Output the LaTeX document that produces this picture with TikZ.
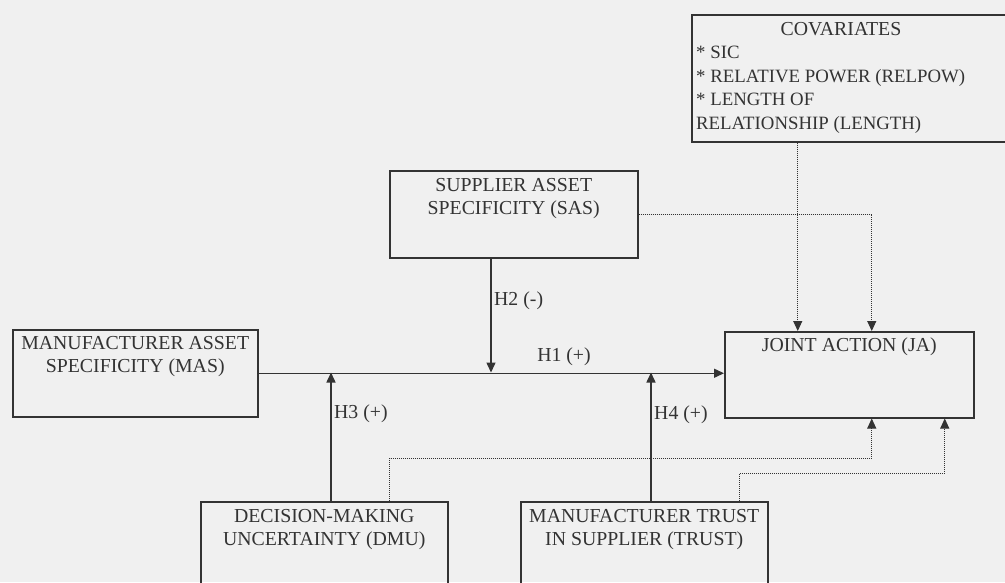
\documentclass[tikz,border=0pt]{standalone}
\usepackage{fontspec}
\setmainfont{Liberation Serif}
\usetikzlibrary{arrows.meta,positioning}

\definecolor{ink}{gray}{0.2}
\definecolor{paper}{gray}{0.94}

\tikzset{
  box/.style={draw=ink, line width=1.5pt, rectangle, inner sep=0pt, anchor=north west},
  txt/.style={inner sep=0pt, align=center, text=ink, font=\fontsize{19.8}{23.5}\selectfont},
  hyp/.style={inner sep=0pt, text=ink, font=\fontsize{19.8}{23.5}\selectfont},
  link/.style={draw=ink, line width=1.5pt, -{Triangle[length=10pt,width=9pt]}},
  dotlink/.style={draw=ink, line width=1pt, densely dotted, -{Triangle[length=10pt,width=9pt]}}
}

\begin{document}
\begin{tikzpicture}[x=1pt,y=-1pt]

  \useasboundingbox (0,0) rectangle (1005,582);
  \fill[paper] (0,0) rectangle (1005,582);
  \clip (0,0) rectangle (1005,582);

  % boxes
  \node[box, minimum width=245pt, minimum height=87pt] (mas) at (12,329) {};
  \node[box, minimum width=248pt, minimum height=87pt] (sas) at (389,170) {};
  \node[box, minimum width=249pt, minimum height=86pt] (ja) at (724,331) {};
  \node[box, minimum width=247pt, minimum height=100pt] (dmu) at (200,501) {};
  \node[box, minimum width=247pt, minimum height=100pt] (trust) at (520,501) {};
  \node[box, minimum width=330pt, minimum height=127pt] (covar) at (691,14) {};

  % box texts
  \node[txt, below=7pt of mas.north] (mastext) {MANUFACTURER ASSET\\SPECIFICITY (MAS)};
  \node[txt, below=8pt of sas.north] (sastext) {SUPPLIER ASSET\\SPECIFICITY (SAS)};
  \node[txt, below=7pt of ja.north] (jatext) {JOINT ACTION (JA)};
  \node[txt, below=8pt of dmu.north] (dmutext) {DECISION-MAKING\\UNCERTAINTY (DMU)};
  \node[txt, below=8pt of trust.north] (trusttext) {MANUFACTURER TRUST\\IN SUPPLIER (TRUST)};
  \node[txt, anchor=north] (covtitle) at (841,22) {COVARIATES};
  \node[txt, align=left, anchor=north west, font=\fontsize{18.8}{23.5}\selectfont]
    (covlist) at (696,46) {* SIC\\* RELATIVE POWER (RELPOW)\\* LENGTH OF\\RELATIONSHIP (LENGTH)};

  % hypothesised paths
  \coordinate (h2) at (491,372.5);
  \coordinate (h3) at (331,372.5);
  \coordinate (h4) at (651,372.5);

  \draw[link] (mas.east) -- (mas.east -| ja.west);
  \draw[link] (sas.south -| h2) -- (h2);
  \draw[link] (dmu.north -| h3) -- (h3);
  \draw[link] (trust.north -| h4) -- (h4);

  \node[hyp] (h1lab) at (564,357) {H1 (+)};
  \node[hyp, anchor=west] (h2lab) at (494,301) {H2 (-)};
  \node[hyp, anchor=west] (h3lab) at (334,414) {H3 (+)};
  \node[hyp, anchor=west] (h4lab) at (654,415) {H4 (+)};

  % control paths
  \draw[dotlink] (sas.east) -| ([xshift=22.5pt]ja.north);
  \draw[dotlink] ([xshift=-51.5pt]ja.north |- covar.south) -- ([xshift=-51.5pt]ja.north);
  \draw[dotlink] ([xshift=65.5pt]dmu.north) -- ++(0,-43) -| ([xshift=22.5pt]ja.south);
  \draw[dotlink] ([xshift=95.5pt]trust.north) -- ++(0,-28) -| ([xshift=95.5pt]ja.south);

\end{tikzpicture}
\end{document}
